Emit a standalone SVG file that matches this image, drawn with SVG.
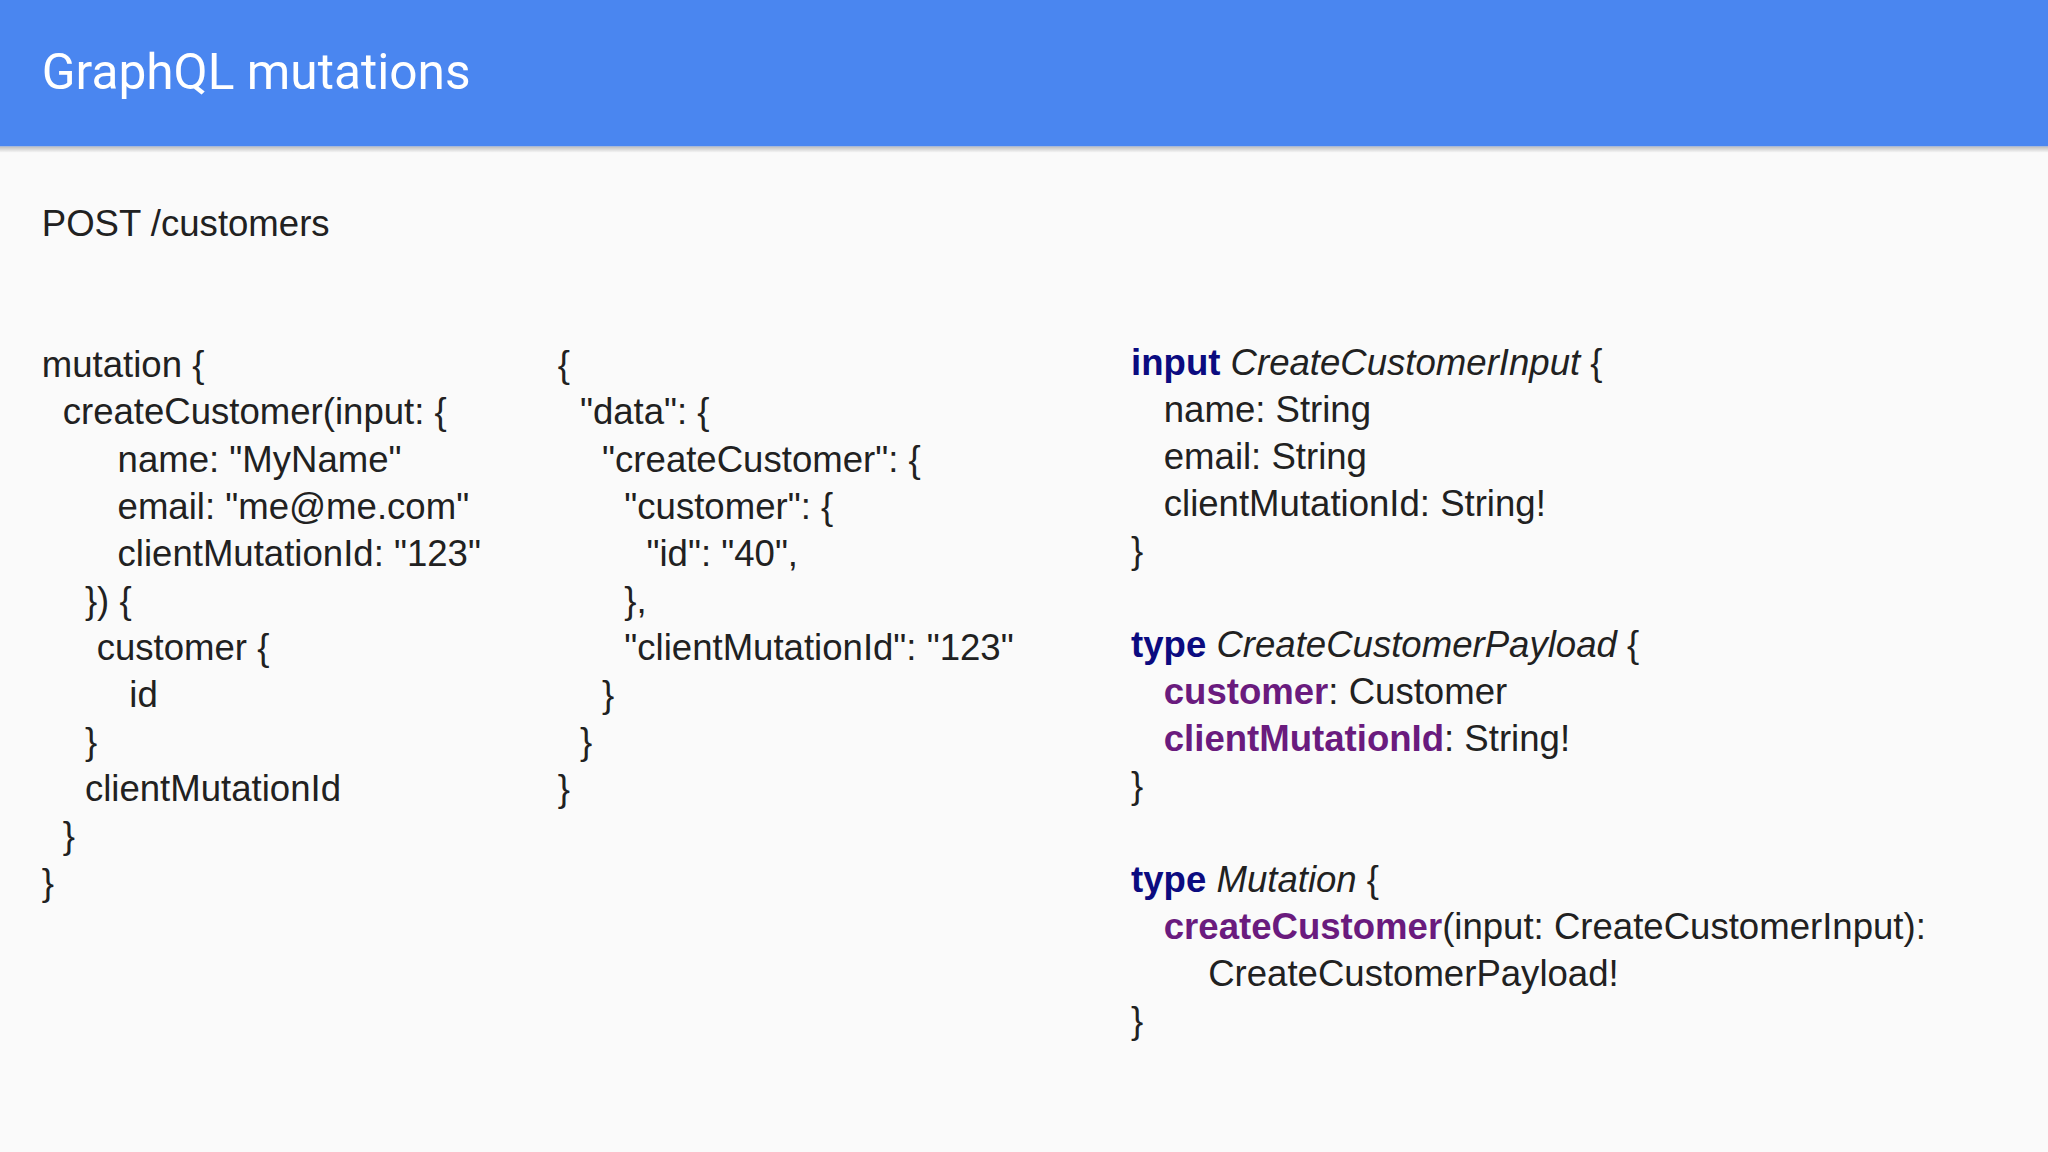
<svg xmlns="http://www.w3.org/2000/svg" width="2048" height="1152" viewBox="0 0 2048 1152">
<defs>
<style>
.t{font-family:"Liberation Sans",Arial,sans-serif;font-size:28px;fill:#212121}
.k{fill:#0b0b80;font-weight:bold}
.f{fill:#6a1b7e;font-weight:bold}
.i{font-style:italic}
</style>
<linearGradient id="sh" x1="0" y1="0" x2="0" y2="1"><stop offset="0" stop-color="#000" stop-opacity="0.25"/><stop offset="1" stop-color="#000" stop-opacity="0"/></linearGradient>
</defs>
<rect width="2048" height="1152" fill="#fafafa"/>
<g transform="scale(1.30612)">
<rect x="0" y="112" width="1568" height="5" fill="url(#sh)"/>
<rect width="1568" height="112" fill="#4a86f0"/>
<text x="32" y="68" style="font-family:Roboto,'Liberation Sans',sans-serif;font-size:38px;fill:#fff">GraphQL mutations</text>
<text class="t" x="32" y="181">POST /customers</text>
<g id="query">
<text class="t" x="32" y="289">mutation {</text>
<text class="t" x="48" y="325">createCustomer(input: {</text>
<text class="t" x="90" y="361">name: "MyName"</text>
<text class="t" x="90" y="397">email: "me@me.com"</text>
<text class="t" x="90" y="433">clientMutationId: "123"</text>
<text class="t" x="65" y="469">}) {</text>
<text class="t" x="74" y="505">customer {</text>
<text class="t" x="99" y="541">id</text>
<text class="t" x="65" y="577">}</text>
<text class="t" x="65" y="613">clientMutationId</text>
<text class="t" x="48" y="649">}</text>
<text class="t" x="32" y="685">}</text>
</g>
<g id="response">
<text class="t" x="427" y="289">{</text>
<text class="t" x="444" y="325">"data": {</text>
<text class="t" x="461" y="361">"createCustomer": {</text>
<text class="t" x="478" y="397">"customer": {</text>
<text class="t" x="495" y="433">"id": "40",</text>
<text class="t" x="478" y="469">},</text>
<text class="t" x="478" y="505">"clientMutationId": "123"</text>
<text class="t" x="461" y="541">}</text>
<text class="t" x="444" y="577">}</text>
<text class="t" x="427" y="613">}</text>
</g>
<g id="schema">
<text class="t" x="866" y="287"><tspan class="k">input</tspan> <tspan class="i">CreateCustomerInput</tspan> {</text>
<text class="t" x="891" y="323">name: String</text>
<text class="t" x="891" y="359">email: String</text>
<text class="t" x="891" y="395">clientMutationId: String!</text>
<text class="t" x="866" y="431">}</text>
<text class="t" x="866" y="503"><tspan class="k">type</tspan> <tspan class="i">CreateCustomerPayload</tspan> {</text>
<text class="t" x="891" y="539"><tspan class="f">customer</tspan>: Customer</text>
<text class="t" x="891" y="575"><tspan class="f">clientMutationId</tspan>: String!</text>
<text class="t" x="866" y="611">}</text>
<text class="t" x="866" y="683"><tspan class="k">type</tspan> <tspan class="i">Mutation</tspan> {</text>
<text class="t" x="891" y="719"><tspan class="f">createCustomer</tspan>(input: CreateCustomerInput):</text>
<text class="t" x="925" y="755">CreateCustomerPayload!</text>
<text class="t" x="866" y="791">}</text>
</g>
</g>
</svg>
